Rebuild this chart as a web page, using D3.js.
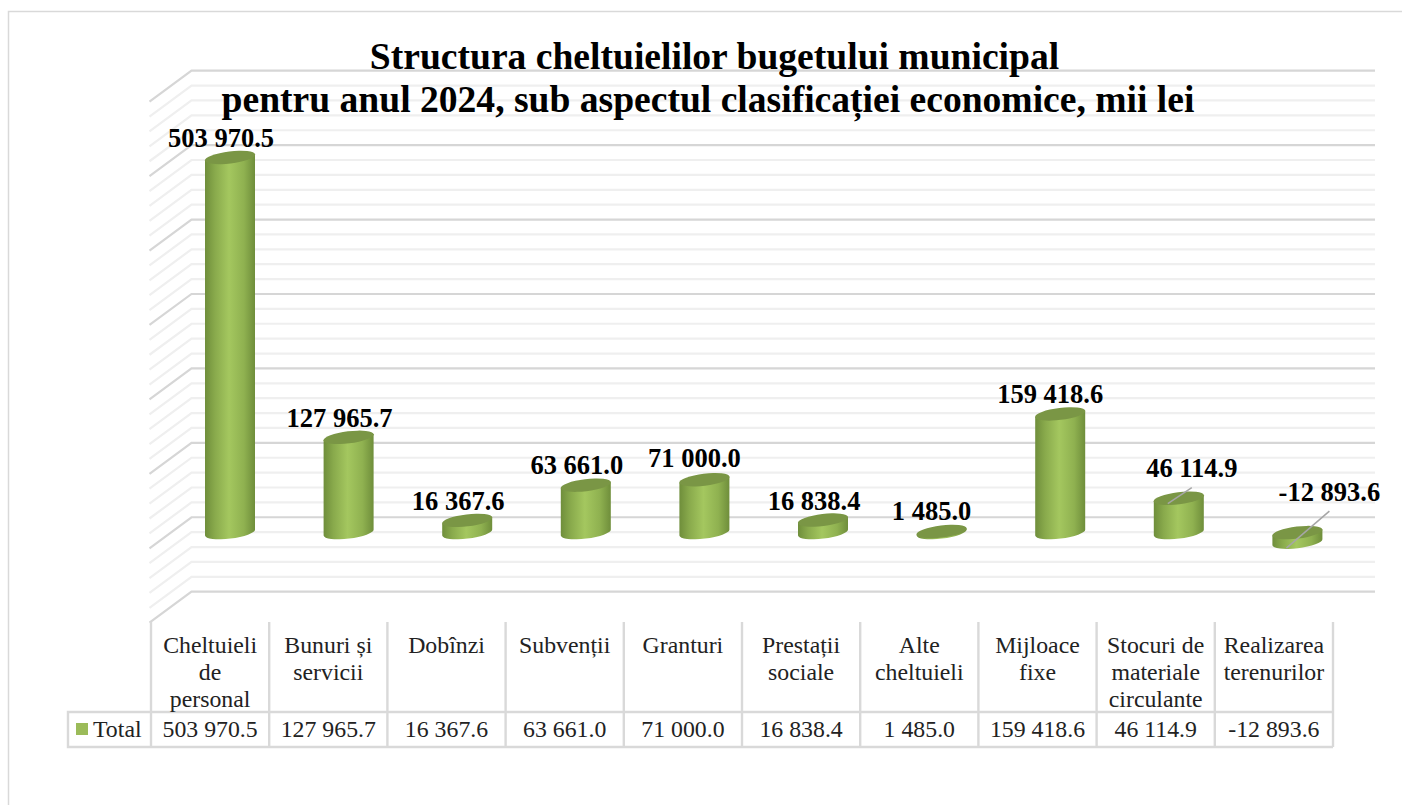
<!DOCTYPE html>
<html>
<head>
<meta charset="utf-8">
<script src="https://cdn.jsdelivr.net/npm/d3@7"></script>
<style>
  html, body { margin: 0; padding: 0; background: #fff; overflow: hidden; }
  svg { display: block; }
  text { font-family: "Liberation Serif", "Times New Roman", serif; }
</style>
</head>
<body>
<svg class="svg" width="1402" height="805"></svg>
<script>
// Donnees
const categories = [
  "Cheltuieli\nde\npersonal", "Bunuri și\nservicii", "Dobînzi", "Subvenții", "Granturi",
  "Prestații\nsociale", "Alte\ncheltuieli", "Mijloace\nfixe", "Stocuri de\nmateriale\ncirculante", "Realizarea\nterenurilor"
];
const values = [503970.5, 127965.7, 16367.6, 63661.0, 71000.0, 16838.4, 1485.0, 159418.6, 46114.9, -12893.6];
const seriesName = "Total";
const titleLines = [
  "Structura cheltuielilor bugetului municipal",
  "pentru anul 2024, sub aspectul clasificației economice, mii lei"
];

const svg = d3.select(".svg");
const green = "#9bbb59";
const fmt = d3.formatLocale({ decimal: ".", thousands: " ", grouping: [3], currency: ["", ""], minus: "-" }).format(",.1f");

// Scales
const y = d3.scaleLinear().domain([-100000, 600000]).range([591.7, 70.7]);
const xBar = d3.scaleBand().domain(categories).range([170.7, 1356.7]);
const xTable = d3.scaleBand().domain(categories).range([151, 1333]);

// Fausse 3D : decalage du mur du fond et demi-profondeur pour les cylindres
const wallDx = 42, wallDy = 31;
const wallLeft = 149.5, wallRight = 1375;
const halfDepth = 15.3;
const barY = v => y(v) + halfDepth;

const rx = 25, ry = 6, tilt = 3, tiltDeg = -7;

// Gradient du cylindre
const grad = svg.append("defs").append("linearGradient").attr("id", "cyl");
grad.selectAll("stop")
  .data([[0, "#6f8e3b"], [0.2, "#89aa4c"], [0.48, "#a4c75f"], [0.78, "#8fb150"], [1, "#6f8e3b"]])
  .join("stop")
  .attr("offset", d => d[0])
  .attr("stop-color", d => d[1]);

// Cadre du graphique
svg.append("path")
  .attr("d", "M8.5,805V11.5H1402")
  .attr("fill", "none")
  .attr("stroke", "#d9d9d9")
  .attr("stroke-width", 1.5);

// Grille (mur + plancher gauche)
const gridTicks = d3.range(-100000, 600001, 20000);
svg.append("g").selectAll("path")
  .data(gridTicks)
  .join("path")
  .attr("d", d => `M${wallLeft},${y(d) + wallDy}L${wallLeft + wallDx},${y(d)}H${wallRight}`)
  .attr("fill", "none")
  .attr("stroke", d => d % 100000 === 0 ? "#d6d6d6" : "#efefef")
  .attr("stroke-width", 2.2);

// Cylindres
const bars = svg.append("g").selectAll("g")
  .data(categories.map((c, i) => ({ c, v: values[i] })))
  .join("g")
  .attr("transform", d => `translate(${xBar(d.c) + xBar.bandwidth() / 2},0)`);

bars.append("path")
  .attr("fill", "url(#cyl)")
  .attr("d", d => {
    const top = barY(Math.max(d.v, 0)), bot = barY(Math.min(d.v, 0));
    return `M${-rx},${top + tilt}V${bot + tilt}A${rx},${ry},${tiltDeg},0,0,${rx},${bot - tilt}V${top - tilt}Z`;
  });

bars.append("ellipse")
  .attr("rx", rx + 0.3)
  .attr("ry", ry)
  .attr("fill", "#7a9645")
  .attr("transform", d => `translate(0,${barY(Math.max(d.v, 0))}) rotate(${tiltDeg})`);

// Etiquettes : decalage commun, quelques-unes sont deplacees comme dans l'original
const labelNudge = {
  "Subvenții": [0, -1], "Granturi": [-1, -2], "Alte\ncheltuieli": [-1, -1],
  "Mijloace\nfixe": [-1, 0], "Stocuri de\nmateriale\ncirculante": [22, -11], "Realizarea\nterenurilor": [41, -21]
};
const labelPos = d => {
  const n = labelNudge[d.c] || [0, 0];
  return [xBar(d.c) + xBar.bandwidth() / 2 - 9 + n[0], barY(Math.max(d.v, 0)) - 10.5 + n[1]];
};

// Traits de rappel
const leaders = { "Stocuri de\nmateriale\ncirculante": [[0, 11], [-24, 27]], "Realizarea\nterenurilor": [[0, 10], [-43, 47]] };
svg.append("g").selectAll("line")
  .data(bars.data().filter(d => leaders[d.c]))
  .join("line")
  .attr("x1", d => labelPos(d)[0] + leaders[d.c][0][0])
  .attr("y1", d => labelPos(d)[1] + leaders[d.c][0][1])
  .attr("x2", d => labelPos(d)[0] + leaders[d.c][1][0])
  .attr("y2", d => labelPos(d)[1] + leaders[d.c][1][1])
  .attr("stroke", "#a6a6a6")
  .attr("stroke-width", 1.5);

svg.append("g").selectAll("text")
  .data(bars.data())
  .join("text")
  .attr("x", d => labelPos(d)[0])
  .attr("y", d => labelPos(d)[1])
  .attr("text-anchor", "middle")
  .attr("font-size", 26.5)
  .attr("font-weight", "bold")
  .attr("fill", "#000")
  .text(d => fmt(d.v));

// Titre
svg.append("g").selectAll("text")
  .data(titleLines)
  .join("text")
  .attr("x", (d, i) => i === 0 ? 714.5 : 708)
  .attr("y", (d, i) => i === 0 ? 69 : 111.5)
  .attr("text-anchor", "middle")
  .attr("font-size", 37.6)
  .attr("font-weight", "bold")
  .attr("fill", "#000")
  .text(d => d);

// Table de donnees
const tTop = 622, tMid = 712, tBot = 747, tLeft = 68;
const table = svg.append("g");
const edges = categories.map(c => xTable(c)).concat(xTable.range()[1]);
table.selectAll("line.v")
  .data(edges)
  .join("line")
  .attr("class", "v")
  .attr("x1", d => d).attr("x2", d => d)
  .attr("y1", tTop).attr("y2", tBot);
table.append("path")
  .attr("d", `M${xTable.range()[1]},${tMid}H${tLeft}V${tBot}H${xTable.range()[1]}`)
  .attr("fill", "none");
table.selectAll("line, path")
  .attr("stroke", "#d9d9d9")
  .attr("stroke-width", 2.4);

const cells = table.selectAll("g.cell")
  .data(categories.map((c, i) => ({ c, v: values[i] })))
  .join("g")
  .attr("class", "cell")
  .attr("transform", d => `translate(${xTable(d.c) + xTable.bandwidth() / 2},0)`);

cells.selectAll("text.cat")
  .data(d => d.c.split("\n"))
  .join("text")
  .attr("class", "cat")
  .attr("y", (d, i) => 652.5 + i * 27.3)
  .attr("text-anchor", "middle")
  .attr("font-size", 23.8)
  .attr("fill", "#222")
  .text(d => d);

cells.append("text")
  .attr("y", 737)
  .attr("text-anchor", "middle")
  .attr("font-size", 23.8)
  .attr("fill", "#222")
  .text(d => fmt(d.v));

// Legende
table.append("rect").attr("x", 76).attr("y", 723).attr("width", 12).attr("height", 12).attr("fill", green);
table.append("text").attr("x", 93).attr("y", 737).attr("font-size", 23.8).attr("fill", "#222").text(seriesName);
</script>
</body>
</html>
